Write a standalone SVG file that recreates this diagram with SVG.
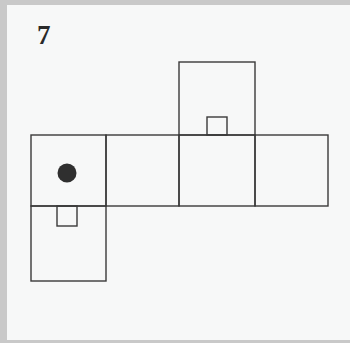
<svg xmlns="http://www.w3.org/2000/svg" width="350" height="343" viewBox="0 0 350 343">
<style>
.ln{fill:none;stroke:#3a3a3a;stroke-width:1.4}
.lbl{font-family:"Liberation Serif","DejaVu Serif",serif;font-weight:bold;font-size:27px;fill:#2a2a2a}
</style>
<rect x="0" y="0" width="350" height="343" fill="#c9c9c9"/>
<rect x="7" y="5" width="343" height="335" fill="#f7f8f8"/>
<text class="lbl" x="37" y="44">7</text>
<g id="face-dot">
<rect class="ln" x="31" y="135" width="75" height="71"/>
<circle cx="67" cy="173" r="9.5" fill="#2f2f2f"/>
</g>
<g id="face-row2">
<rect class="ln" x="106" y="135" width="73" height="71"/>
</g>
<g id="face-row3">
<rect class="ln" x="179" y="135" width="76" height="71"/>
</g>
<g id="face-row4">
<rect class="ln" x="255" y="135" width="73" height="71"/>
</g>
<g id="face-top">
<rect class="ln" x="179" y="62" width="76" height="73"/>
<rect class="ln" x="207" y="117" width="20" height="18"/>
</g>
<g id="face-bottom">
<rect class="ln" x="31" y="206" width="75" height="75"/>
<rect class="ln" x="57" y="206" width="20" height="20"/>
</g>
<g id="connectors"></g>
</svg>
